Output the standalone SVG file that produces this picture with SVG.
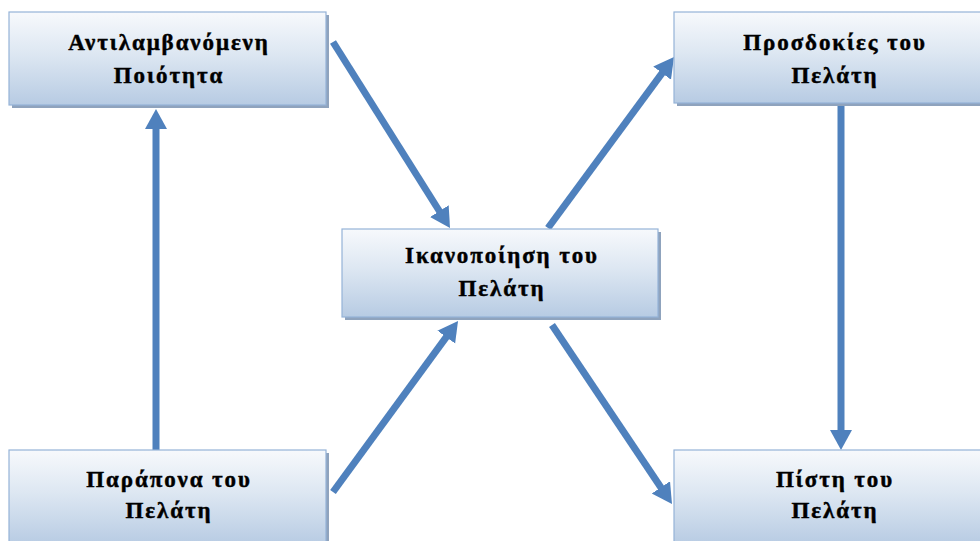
<svg xmlns="http://www.w3.org/2000/svg" width="980" height="541" viewBox="0 0 980 541">
  <style>
    .box { fill: url(#boxFill); stroke: #95b3d7; stroke-width: 1.2; }
    .shadow { fill: #8fa3bd; }
    .label { font-family: "Liberation Serif", "Times New Roman", serif; font-weight: bold; font-size: 23px; letter-spacing: 1.9px; fill: #000; stroke: #000; stroke-width: 0.45px; text-anchor: middle; }
    .arrow { stroke: #4f81bd; stroke-width: 7; fill: none; marker-end: url(#head); }
  </style>
  <defs>
    <linearGradient id="boxFill" x1="0" y1="0" x2="0" y2="1">
      <stop offset="0" stop-color="#f7f9fc"/>
      <stop offset="0.45" stop-color="#dde7f2"/>
      <stop offset="1" stop-color="#b7cbe3"/>
    </linearGradient>
    <marker id="head" markerUnits="userSpaceOnUse" markerWidth="22" markerHeight="24" refX="4" refY="11" orient="auto">
      <path d="M0,0 L20,11 L0,22 Z" fill="#4f81bd"/>
    </marker>
  </defs>

  <!-- connectors -->
  <g id="connectors">
    <line class="arrow" x1="156" y1="450" x2="156" y2="125"/>
    <line class="arrow" x1="333" y1="42" x2="441.5" y2="214.5"/>
    <line class="arrow" x1="548" y1="228" x2="664.5" y2="69.9"/>
    <line class="arrow" x1="841" y1="106" x2="841" y2="434"/>
    <line class="arrow" x1="333" y1="492" x2="448.6" y2="333.9"/>
    <line class="arrow" x1="552" y1="325" x2="663.1" y2="490.7"/>
  </g>

  <!-- perceived quality -->
  <g id="perceived-quality">
    <rect class="shadow" x="12" y="15" width="317" height="93"/>
    <rect class="box" x="9" y="12" width="317" height="93"/>
    <text class="label" x="169" y="50">Αντιλαμβανόμενη</text>
    <text class="label" x="169" y="83">Ποιότητα</text>
  </g>

  <!-- customer satisfaction -->
  <g id="customer-satisfaction">
    <rect class="shadow" x="345" y="232" width="316" height="88"/>
    <rect class="box" x="342" y="229" width="316" height="88"/>
    <text class="label" x="502" y="263">Ικανοποίηση του</text>
    <text class="label" x="502" y="296">Πελάτη</text>
  </g>

  <!-- customer expectations -->
  <g id="customer-expectations">
    <rect class="shadow" x="677" y="15" width="316" height="91"/>
    <rect class="box" x="674" y="12" width="316" height="91"/>
    <text class="label" x="835" y="50">Προσδοκίες του</text>
    <text class="label" x="835" y="83">Πελάτη</text>
  </g>

  <!-- customer complaints -->
  <g id="customer-complaints">
    <rect class="shadow" x="12" y="453" width="317" height="95"/>
    <rect class="box" x="9" y="450" width="317" height="95"/>
    <text class="label" x="169" y="487">Παράπονα του</text>
    <text class="label" x="169" y="518">Πελάτη</text>
  </g>

  <!-- customer loyalty -->
  <g id="customer-loyalty">
    <rect class="shadow" x="677" y="453" width="316" height="95"/>
    <rect class="box" x="674" y="450" width="316" height="95"/>
    <text class="label" x="835" y="487">Πίστη του</text>
    <text class="label" x="835" y="518">Πελάτη</text>
  </g>
</svg>
